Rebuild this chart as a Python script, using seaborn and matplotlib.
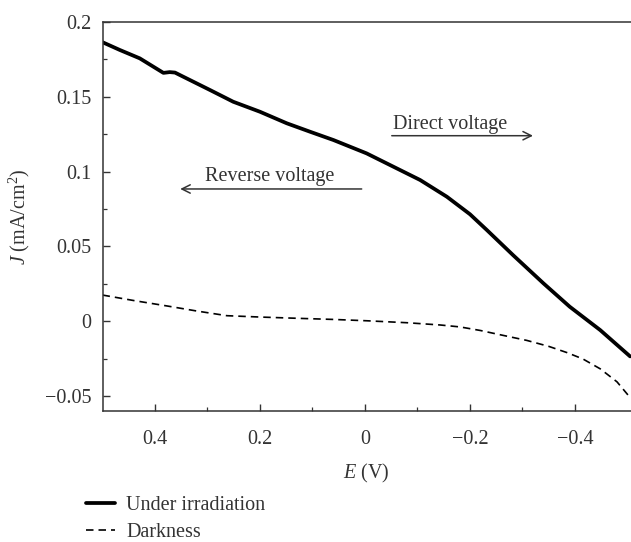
import matplotlib
matplotlib.use("Agg")
import matplotlib.pyplot as plt
import seaborn as sns
import pandas as pd

# ---- data ----
E_irr = [0.5, 0.467, 0.429, 0.384, 0.372, 0.362, 0.346, 0.295, 0.251, 0.2, 0.149,
         0.105, 0.06, -0.003, -0.054, -0.105, -0.156, -0.2, -0.232, -0.282,
         -0.34, -0.39, -0.448, -0.505]
J_irr = [0.1865, 0.1813, 0.1757, 0.1660, 0.1665, 0.1662, 0.1634, 0.1545, 0.1467,
         0.140, 0.1323, 0.1267, 0.1211, 0.1122, 0.1033, 0.0944, 0.0832, 0.0715,
         0.061, 0.0442, 0.0253, 0.0097, -0.0059, -0.0235]

E_dark = [0.5, 0.44, 0.377, 0.32, 0.263, 0.2, 0.124, 0.06, -0.004, -0.08, -0.143,
          -0.181, -0.22, -0.257, -0.308, -0.35, -0.385, -0.415, -0.448, -0.48,
          -0.505]
J_dark = [0.0175, 0.0138, 0.0102, 0.0068, 0.0037, 0.0028, 0.0019, 0.0012, 0.0003,
          -0.0010, -0.0025, -0.0038, -0.0062, -0.0090, -0.0128, -0.0168, -0.0210,
          -0.0252, -0.0318, -0.0405, -0.0510]

x_ticks = [0.4, 0.2, 0, -0.2, -0.4]
x_tick_labels = ["0.4", "0.2", "0", "\u22120.2", "\u22120.4"]
y_ticks = [0.2, 0.15, 0.1, 0.05, 0, -0.05]
y_tick_labels = ["0.2", "0.15", "0.1", "0.05", "0", "\u22120.05"]

series_names = ["Under irradiation", "Darkness"]

df = pd.concat([
    pd.DataFrame({"E": E_irr, "J": J_irr, "series": series_names[0]}),
    pd.DataFrame({"E": E_dark, "J": J_dark, "series": series_names[1]}),
], ignore_index=True)

# ---- style ----
sns.set_style("ticks")
plt.rcParams["font.family"] = ["Liberation Serif", "DejaVu Serif"]
plt.rcParams["mathtext.fontset"] = "custom"
plt.rcParams["mathtext.rm"] = "Liberation Serif"
plt.rcParams["mathtext.it"] = "Liberation Serif:italic"
plt.rcParams["axes.unicode_minus"] = True

text_c = "#333333"
fs = 14.5

fig = plt.figure(figsize=(6.31, 5.42), dpi=100)
ax = fig.add_axes([102.5 / 631, 1 - 411 / 542, 1 - 102.5 / 631, (411 - 22) / 542])

sns.lineplot(data=df[df.series == series_names[0]], x="E", y="J", ax=ax,
             color="black", linewidth=2.7, sort=False, estimator=None,
             label=series_names[0], legend=False)
sns.lineplot(data=df[df.series == series_names[1]], x="E", y="J", ax=ax,
             color="black", linewidth=1.2, sort=False, estimator=None,
             linestyle=(0, (4.5, 3)), label=series_names[1], legend=False)

ax.set_xlim(0.5, -0.5067)
ax.set_ylim(-0.06, 0.2)

ax.set_xticks(x_ticks)
ax.set_xticklabels(x_tick_labels)
ax.set_yticks(y_ticks)
ax.set_yticklabels(y_tick_labels)
ax.set_xticks([0.3, 0.1, -0.1, -0.3], minor=True)
ax.set_yticks([0.175, 0.125, 0.075, 0.025, -0.025], minor=True)

ax.tick_params(axis="both", which="major", direction="in", length=5, width=1,
               colors=text_c, labelsize=fs, labelcolor=text_c)
ax.tick_params(axis="both", which="minor", direction="in", length=3, width=0.9,
               colors=text_c)
ax.tick_params(axis="x", which="major", pad=14)
ax.tick_params(axis="y", which="major", pad=8)

for s in ["left", "bottom", "top"]:
    ax.spines[s].set_color(text_c)
    ax.spines[s].set_linewidth(1.1)
ax.spines["right"].set_visible(False)

ax.set_xlabel(r"$E$ (V)", fontsize=fs, color=text_c, labelpad=9)
ax.set_ylabel(r"$J$ (mA/cm$^2$)", fontsize=fs, color=text_c, labelpad=9)

# annotations
arrow_kw = dict(arrowstyle="->,head_length=0.6,head_width=0.3",
                color=text_c, lw=1.1, shrinkA=0, shrinkB=0)
ax.annotate("", xy=(-0.32, 0.124), xytext=(-0.051, 0.124), arrowprops=arrow_kw)
ax.text(-0.053, 0.1285, "Direct voltage", fontsize=fs, color=text_c,
        ha="left", va="baseline")
ax.annotate("", xy=(0.352, 0.0884), xytext=(0.0063, 0.0884), arrowprops=arrow_kw)
ax.text(0.305, 0.0935, "Reverse voltage", fontsize=fs, color=text_c,
        ha="left", va="baseline")

handles, labels = ax.get_legend_handles_labels()
fig.legend(handles, labels, loc="upper left",
           bbox_to_anchor=(86 / 631, 1 - 496 / 542), frameon=False,
           fontsize=fs, labelcolor=text_c, handlelength=1.45,
           handletextpad=0.55, labelspacing=0.4, borderpad=0,
           borderaxespad=0)

fig.savefig("out.png", dpi=100)
